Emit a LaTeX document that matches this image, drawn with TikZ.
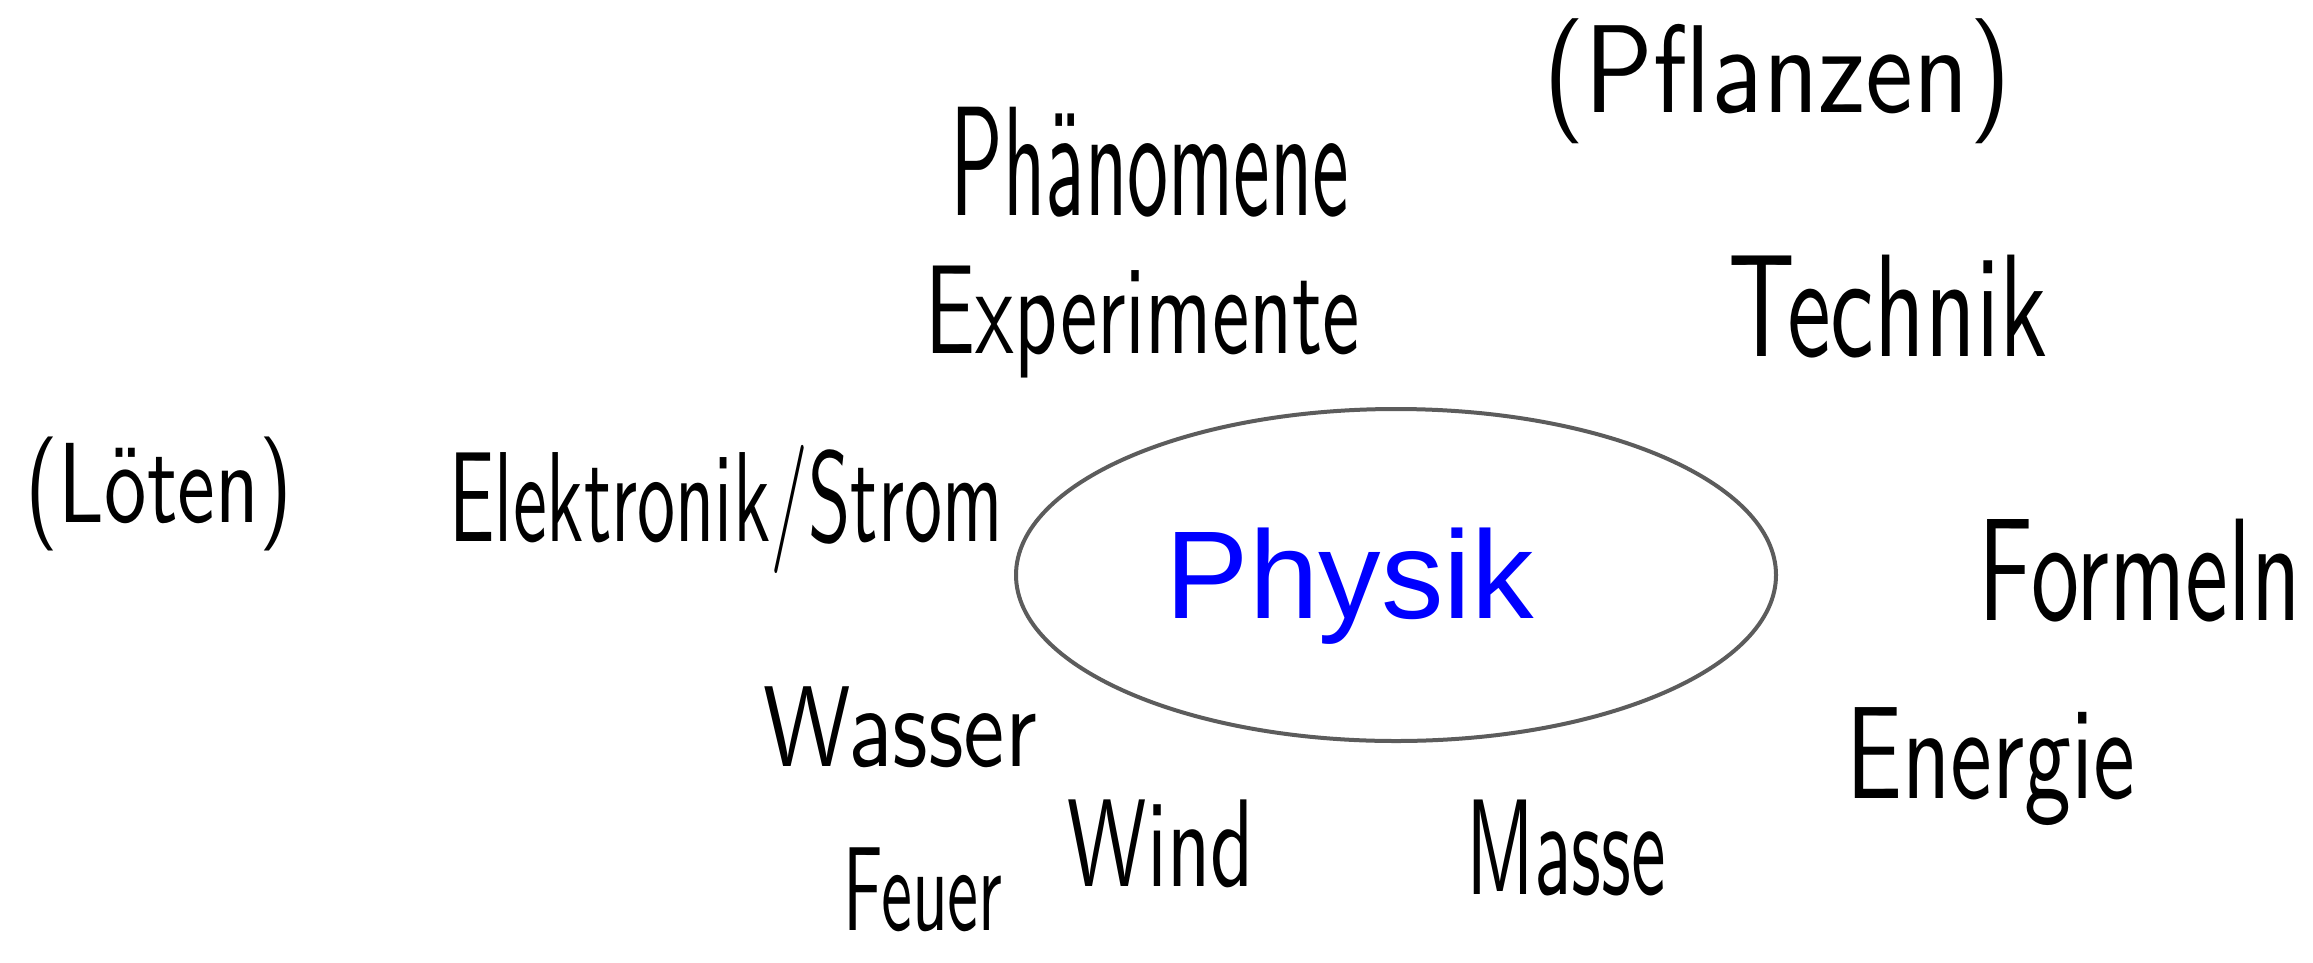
\documentclass[tikz,border=0pt]{standalone}
\usepackage{fontspec}
\usepackage{graphicx}
\newfontfamily\physfont{Liberation Sans}
\usetikzlibrary{shapes.geometric}
\newcommand\hwfit[3]{\resizebox*{#1pt}{#2pt}{\sffamily #3}}
\tikzset{
  hw/.style={inner sep=0pt, outer sep=0pt, text=black},
  core/.style={ellipse, draw={rgb,255:red,92;green,92;blue,92}, line width=4pt, minimum width=760pt, minimum height=332pt, inner sep=0pt},
  title/.style={inner sep=0pt, text={rgb,255:red,0;green,0;blue,255}, font=\physfont\fontsize{125}{125}\selectfont}
}
\begin{document}
\begin{tikzpicture}[x=1pt,y=-1pt]
\useasboundingbox[fill=white] (0,0) rectangle (2313,962);
\node[core] (e) at (1396,575) {};
\node[title] (p) at (1350,586) {Physik};
\node[hw] (phaen) at (1150,162) {\hwfit{398}{110}{Phänomene}};
\node[hw] (pfl) at (1777,81) {\hwfit{468}{125}{(Pflanzen)}};
\node[hw] (exp) at (1143,322) {\hwfit{434}{112}{Experimente}};
\node[hw] (tech) at (1888,307) {\hwfit{319}{103}{Technik}};
\node[hw] (loet) at (159,494) {\hwfit{266}{114}{(Löten)}};
\node[hw] (elek) at (726,509) {\hwfit{553}{128}{Elektronik/Strom}};
\node[hw] (form) at (2140,571) {\hwfit{322}{103}{Formeln}};
\node[hw] (wass) at (900,727) {\hwfit{273}{81}{Wasser}};
\node[hw] (ener) at (1991,767) {\hwfit{289}{118}{Energie}};
\node[hw] (wind) at (1161,844) {\hwfit{186}{88}{Wind}};
\node[hw] (mass) at (1566,848) {\hwfit{199}{96}{Masse}};
\node[hw] (feu) at (923,890) {\hwfit{159}{84}{Feuer}};
\end{tikzpicture}
\end{document}
